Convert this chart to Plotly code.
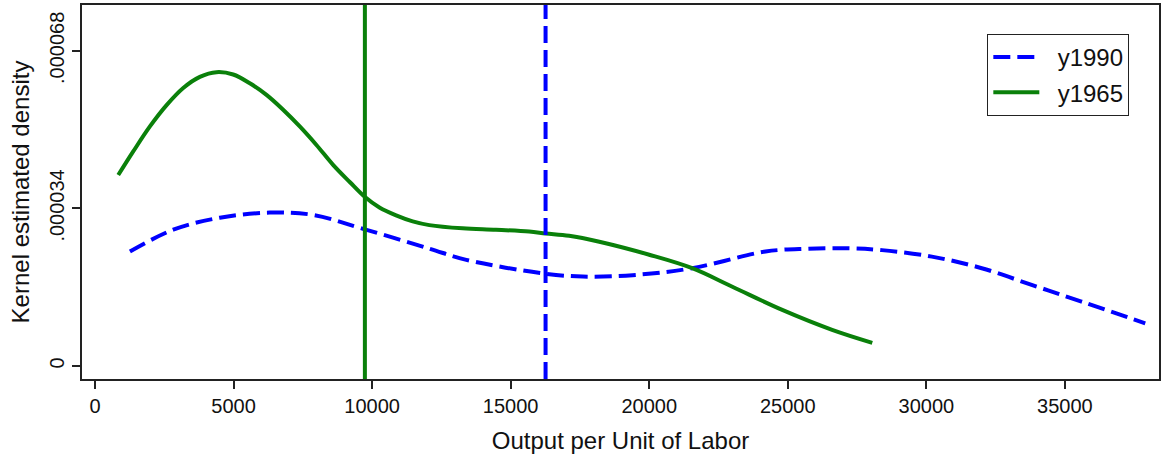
import plotly.graph_objects as go

# ---- data ----
x_1965 = [840, 1381, 1983, 2584, 3185, 3785, 4386, 4987, 5588, 6189, 6790, 7390,
          7992, 8592, 9193, 9733, 10265, 10866, 11465, 12066, 13267, 14468, 15668,
          16269, 17110, 18200, 20000, 21550, 23000, 24800, 26600, 28050]
dens_1965 = [41.2e-6, 46.3e-6, 51.7e-6, 56.3e-6, 60.0e-6, 62.4e-6, 63.4e-6, 62.9e-6,
             61.0e-6, 58.5e-6, 55.3e-6, 51.7e-6, 47.7e-6, 43.4e-6, 39.7e-6, 36.5e-6,
             34.2e-6, 32.5e-6, 31.2e-6, 30.4e-6, 29.7e-6, 29.4e-6, 29.0e-6, 28.6e-6,
             28.1e-6, 26.8e-6, 24.0e-6, 21.1e-6, 17.1e-6, 12.1e-6, 7.8e-6, 5.0e-6]

x_1990 = [1262, 2824, 4506, 6309, 7871, 9673, 12077, 13400, 16258, 17600, 19400,
          21550, 24200, 25700, 27200, 28400, 30200, 32000, 33800, 35600, 37900]
dens_1990 = [24.7e-6, 29.4e-6, 32.0e-6, 33.1e-6, 32.6e-6, 29.6e-6, 25.3e-6, 22.9e-6,
             19.9e-6, 19.3e-6, 19.6e-6, 21.1e-6, 24.7e-6, 25.3e-6, 25.4e-6, 25.0e-6,
             23.6e-6, 21.1e-6, 17.5e-6, 13.9e-6, 9.2e-6]

mean_1965 = 9740
mean_1990 = 16260

series_names = ["y1990", "y1965"]

x_ticks = [0, 5000, 10000, 15000, 20000, 25000, 30000, 35000]
x_ticklabels = ["0", "5000", "10000", "15000", "20000", "25000", "30000", "35000"]
y_ticks = [0, 34e-6, 68e-6]
y_ticklabels = ["0", ".000034", ".000068"]

BLUE = "#0000ff"
GREEN = "#0a800a"
FONT = "Liberation Sans, Arial, Helvetica, sans-serif"
DASH = "17px,7px"
PAD = "\u00a0\u00a0"

fig = go.Figure()
fig.add_trace(go.Scatter(x=x_1990, y=dens_1990, mode="lines", name=PAD + series_names[0],
                         legendgroup="a",
                         line=dict(color=BLUE, width=4, dash=DASH, shape="spline")))
fig.add_trace(go.Scatter(x=x_1965, y=dens_1965, mode="lines", name=PAD + series_names[1],
                         legendgroup="b",
                         line=dict(color=GREEN, width=4, shape="spline")))

fig.add_vline(x=mean_1965, line=dict(color=GREEN, width=4))
fig.add_vline(x=mean_1990, line=dict(color=BLUE, width=4, dash=DASH))

axis_common = dict(showline=True, mirror=True, linecolor="#222", linewidth=2,
                   ticks="outside", ticklen=8, tickwidth=1.5, tickcolor="#222",
                   showgrid=False, zeroline=False,
                   tickfont=dict(family=FONT, size=20, color="#111"))

fig.update_xaxes(range=[-468, 38396], tickvals=x_ticks, ticktext=x_ticklabels,
                 title=dict(text="Output per Unit of Labor",
                            font=dict(family=FONT, size=24, color="#111"),
                            standoff=16),
                 **axis_common)
fig.update_yaxes(range=[-2.81e-6, 77.9e-6], tickvals=y_ticks, ticktext=y_ticklabels,
                 tickangle=-90,
                 title=dict(text="Kernel estimated density",
                            font=dict(family=FONT, size=24, color="#111"),
                            standoff=10),
                 **axis_common)

fig.update_layout(
    width=1163, height=455,
    margin=dict(l=82, r=2, t=5, b=76),
    paper_bgcolor="white", plot_bgcolor="white",
    font=dict(family=FONT, color="#111"),
    showlegend=True,
    legend=dict(x=0.8406, y=0.9225, xanchor="left", yanchor="top",
                bgcolor="white", bordercolor="#222", borderwidth=1,
                font=dict(family=FONT, size=24, color="#111"),
                traceorder="grouped", tracegroupgap=1, itemwidth=46),
)

fig.write_html("out.html")
